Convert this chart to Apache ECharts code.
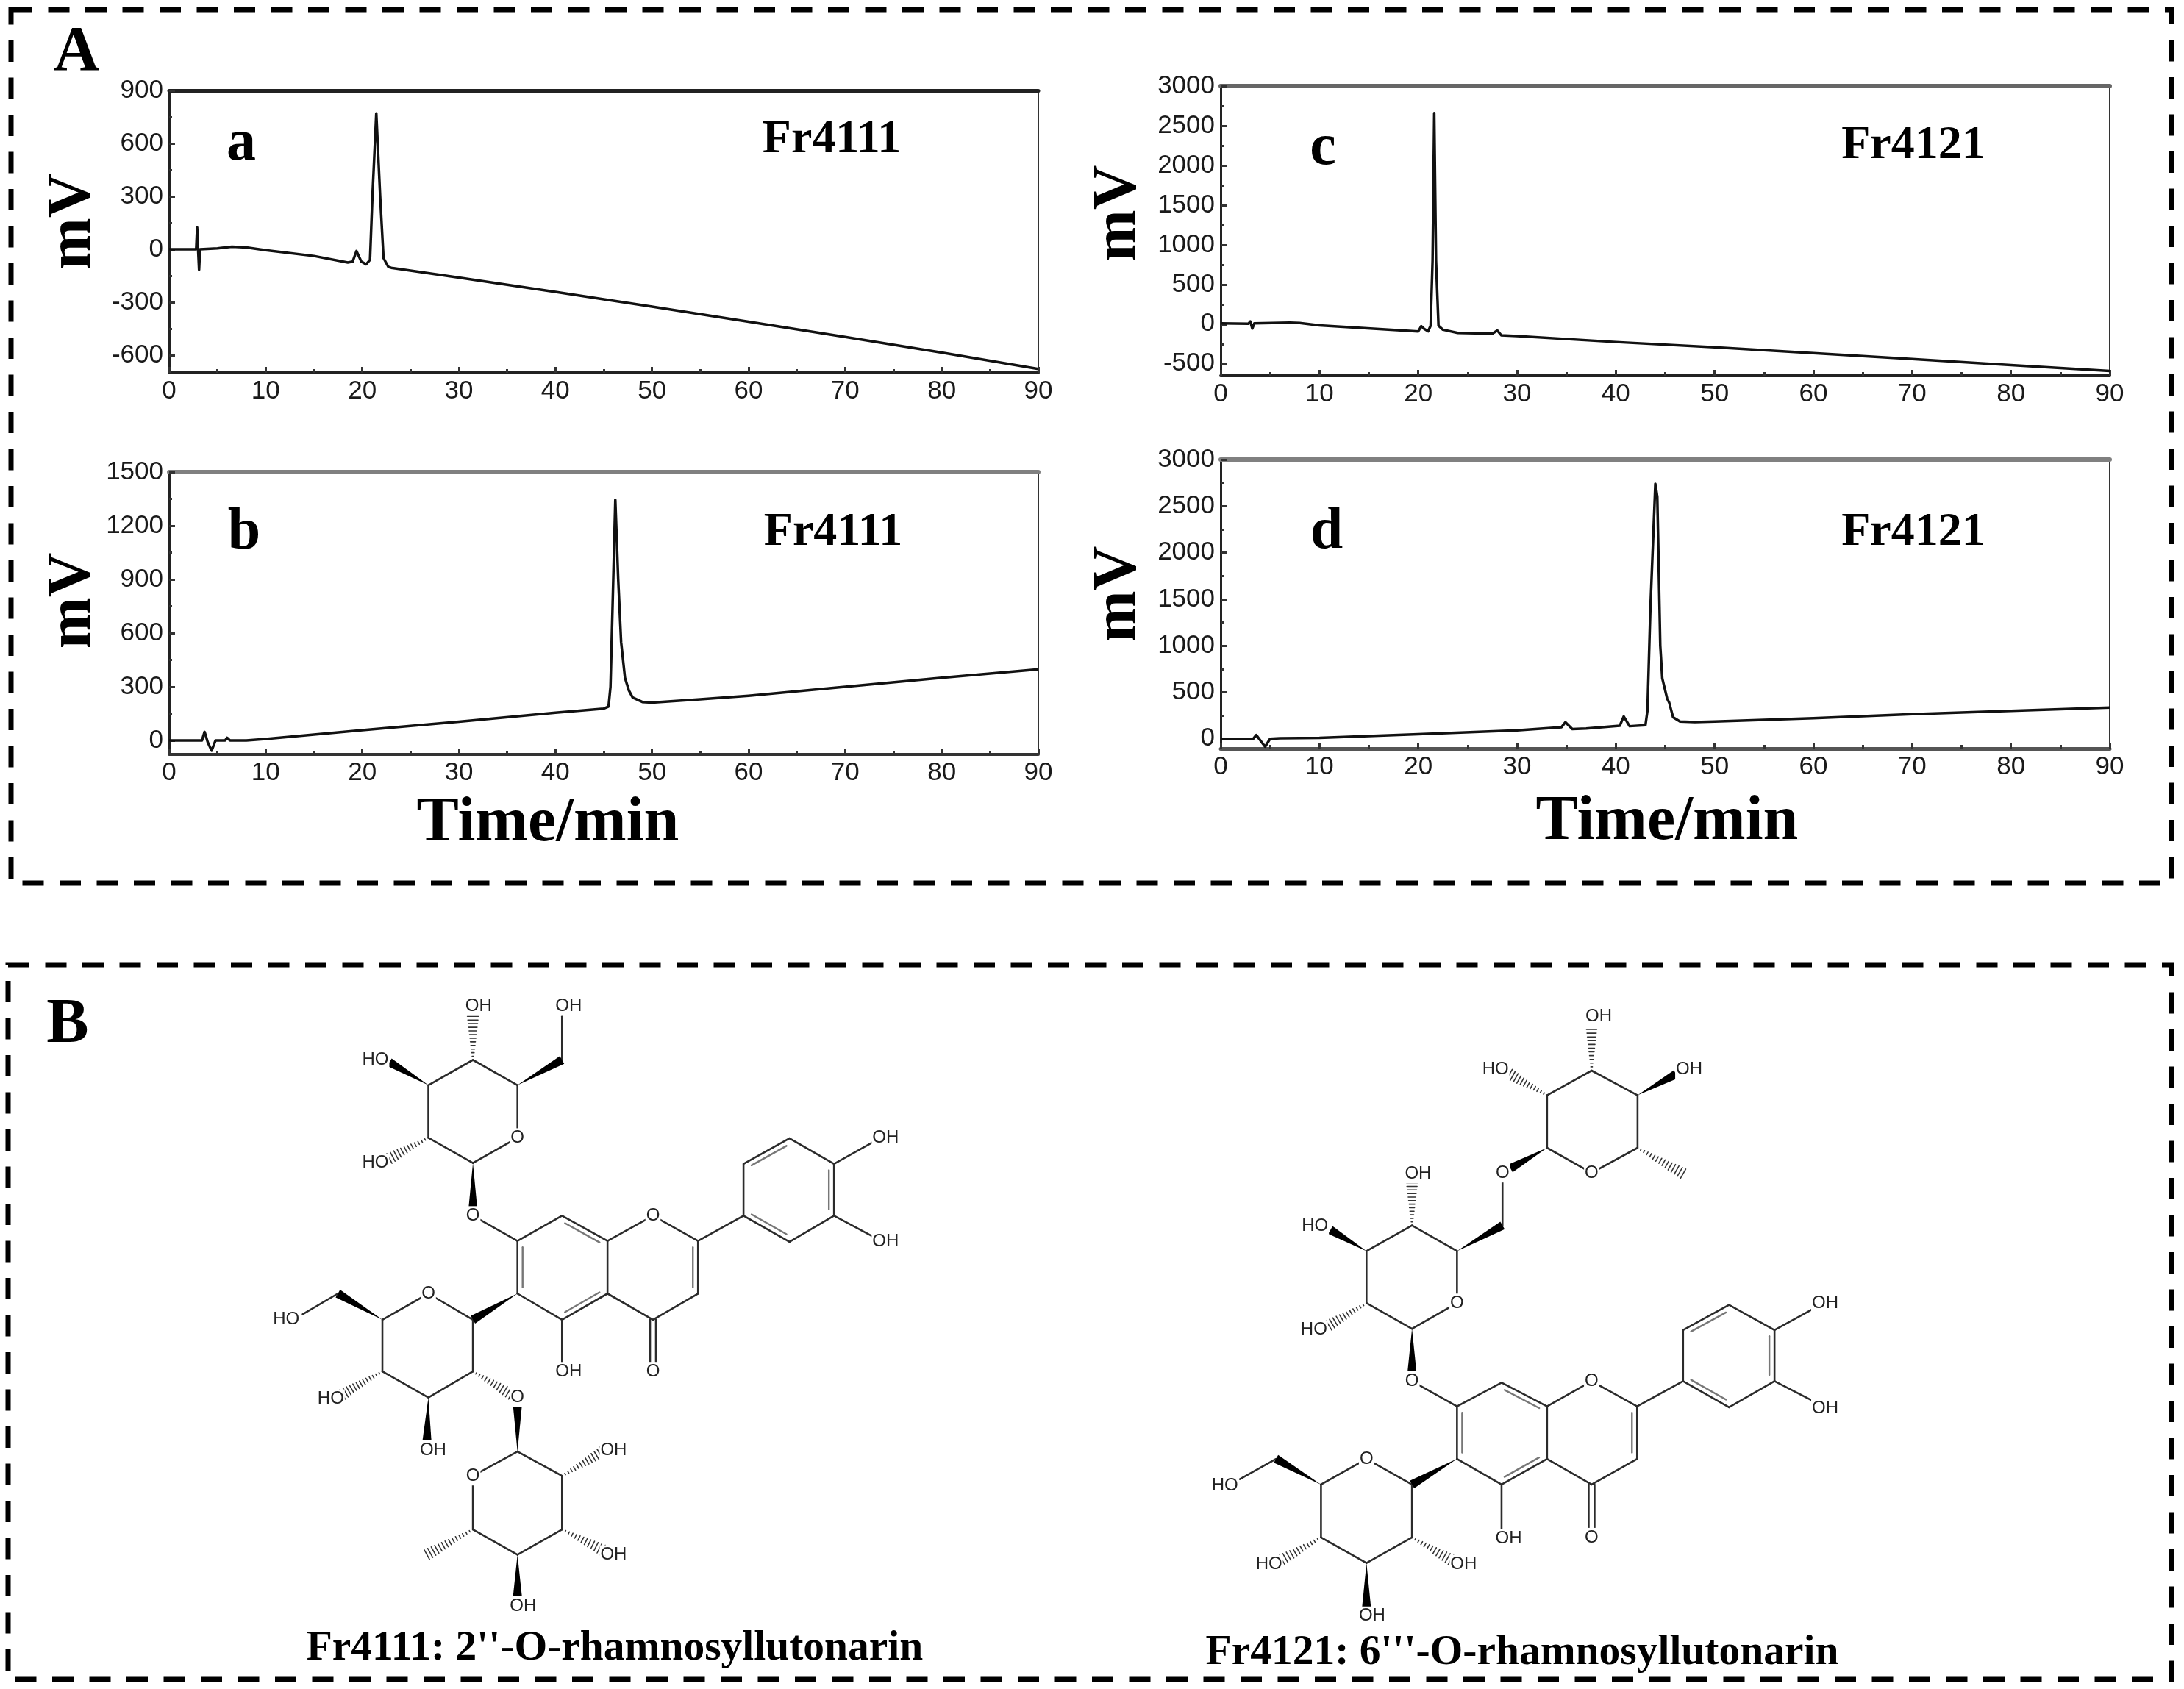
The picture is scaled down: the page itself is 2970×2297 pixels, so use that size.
<!DOCTYPE html>
<html>
<head>
<meta charset="utf-8">
<style>html,body{margin:0;padding:0;background:#fff}#c{width:2970px;height:2297px}</style>
<script src="https://cdn.jsdelivr.net/npm/echarts@6/dist/echarts.min.js"></script>
</head>
<body>
<div id="c"></div>
<script>
// ---------- chromatogram data ----------
const xTicks = [0,10,20,30,40,50,60,70,80,90];

const aTime   = [0,2.8,2.9,3.0,3.1,3.2,5,6.5,8,10,15,18.5,19,19.4,19.9,20.4,20.8,21.05,21.45,21.85,22.2,22.7,23,30,40,50,60,70,80,90];
const aSignal = [0,0,124,0,-116,0,5,15,10,-5,-38,-75,-70,-10,-70,-85,-60,300,770,300,-50,-100,-105,-160,-242,-325,-410,-497,-585,-678];
const aTicks  = [-600,-300,0,300,600,900];
const aMinor  = [-450,-150,150,450,750];

const bTime   = [0,3.4,3.67,4.0,4.4,4.8,5.8,6.0,6.3,8,10,20,30,40,45,45.5,45.7,46.2,46.5,46.8,47.2,47.6,48,49,50,55,60,70,80,90];
const bSignal = [0,0,48,-10,-57,0,0,15,0,0,8,58,105,155,178,190,300,1345,900,550,350,280,240,215,212,230,250,300,350,398];
const bTicks  = [0,300,600,900,1200,1500];
const bMinor  = [150,450,750,1050,1350];

const cTime   = [0,2.8,3,3.2,3.4,7,8,10,20,20.3,20.6,21,21.25,21.45,21.62,21.8,22.05,22.5,24,27.5,28,28.4,30,40,50,60,70,80,90];
const cSignal = [10,5,35,-55,10,20,15,-15,-92,-25,-60,-90,-20,800,2660,800,-20,-70,-110,-120,-80,-140,-150,-225,-290,-365,-440,-515,-590];
const cTicks  = [-500,0,500,1000,1500,2000,2500,3000];
const cMinor  = [-250,250,750,1250,1750,2250,2750];

const dTime   = [0,3.3,3.6,4.1,4.5,5,6,10,20,30,34.5,34.9,35.6,37,40.4,40.8,41.4,43,43.2,43.5,44,44.2,44.5,44.7,45.2,45.4,45.8,46.5,48,50,60,70,80,90];
const dSignal = [0,0,40,-30,-85,0,5,10,50,90,125,178,105,110,140,240,135,145,300,1400,2740,2600,1000,650,430,390,230,185,180,185,220,265,300,336];
const dTicks  = [0,500,1000,1500,2000,2500,3000];
const dMinor  = [250,750,1250,1750,2250,2750];

const titles = ['Fr4111','Fr4111','Fr4121','Fr4121'];
const letters = ['a','b','c','d'];

// ---------- panel layout ----------
const panels = [
  {t:aTime,s:aSignal,ticks:aTicks,minor:aMinor,min:-700,max:900, l:230,r:1412,top:123,bot:507, topC:'#222',topW:5,botC:'#222',botW:4},
  {t:bTime,s:bSignal,ticks:bTicks,minor:bMinor,min:-78,max:1500, l:230,r:1412,top:642,bot:1026,topC:'#808080',topW:6,botC:'#333',botW:4},
  {t:cTime,s:cSignal,ticks:cTicks,minor:cMinor,min:-650,max:3000,l:1660,r:2869,top:117,bot:511, topC:'#666',topW:6,botC:'#222',botW:4},
  {t:dTime,s:dSignal,ticks:dTicks,minor:dMinor,min:-105,max:3000,l:1660,r:2869,top:625,bot:1018,topC:'#808080',topW:6,botC:'#555',botW:5}
];
const labelFont = '"Liberation Sans"';
const serif = '"Liberation Serif"';
const plain = v => String(v);

const grid=[],xAxis=[],yAxis=[],series=[];
panels.forEach((p,i)=>{
  grid.push({left:p.l,width:p.r-p.l,top:p.top,height:p.bot-p.top,show:true,borderColor:'#333',borderWidth:2,backgroundColor:'#fff'});
  xAxis.push({type:'value',gridIndex:i,position:'bottom',min:0,max:90,interval:10,splitLine:{show:false},
    axisLine:{show:true,onZero:false,lineStyle:{color:p.botC,width:p.botW}},
    axisTick:{show:true,inside:true,length:8,lineStyle:{color:'#333',width:3}},
    minorTick:{show:true,splitNumber:2,length:5,lineStyle:{color:'#333',width:3}},minorSplitLine:{show:false},
    axisLabel:{color:'#1a1a1a',fontFamily:labelFont,fontSize:35,margin:8,formatter:plain,showMinLabel:true,showMaxLabel:true,hideOverlap:false}});
  xAxis.push({type:'value',gridIndex:i,position:'top',min:0,max:90,splitLine:{show:false},
    axisLine:{show:true,onZero:false,lineStyle:{color:p.topC,width:p.topW}},axisTick:{show:false},axisLabel:{show:false}});
  yAxis.push({type:'value',gridIndex:i,min:p.min,max:p.max,splitLine:{show:false},
    axisLine:{show:true,onZero:false,lineStyle:{color:'#222',width:3}},
    axisTick:{show:true,inside:true,length:8,customValues:p.ticks,lineStyle:{color:'#333',width:3}},
    axisLabel:{color:'#1a1a1a',fontFamily:labelFont,fontSize:35,margin:8,formatter:plain,customValues:p.ticks,hideOverlap:false}});
  yAxis.push({type:'value',gridIndex:i,position:'left',min:p.min,max:p.max,splitLine:{show:false},
    axisLine:{show:false},axisLabel:{show:false},
    axisTick:{show:true,inside:true,length:4,customValues:p.minor,lineStyle:{color:'#333',width:3}}});
  series.push({type:'line',name:letters[i],xAxisIndex:2*i,yAxisIndex:2*i,showSymbol:false,symbol:'none',clip:true,
    lineStyle:{color:'#111',width:3.5,join:'round'},data:p.t.map((x,k)=>[x,p.s[k]])});
});

// ---------- annotation text ----------
const graphic=[];
function txt(text,x,y,size,opt){opt=opt||{};
  graphic.push({type:'text',x:x,y:y,rotation:opt.rot||0,z:opt.z||10,silent:true,
    style:{text:text,x:0,y:0,fill:opt.fill||'#000',textAlign:'center',textVerticalAlign:'middle',
    font:(opt.weight||'bold')+' '+size+'px '+(opt.family||serif),
    backgroundColor:opt.bg,padding:opt.pad}});
}
function frame(x,y,w,h){graphic.push({type:'rect',z:1,silent:true,shape:{x:x,y:y,width:w,height:h},
  style:{fill:null,stroke:'#000',lineWidth:7,lineDash:[29,21.5]}});}
frame(15,13,2938,1188);
frame(11,1312,2942,972);
txt('A',104,73,86); txt('B',92,1395,86);
[[100,301],[100,817],[1522,290],[1522,808]].forEach(c=>txt('mV',c[0],c[1],84,{rot:Math.PI/2}));
[[328,196],[332,725],[1799,202],[1804,724]].forEach((c,i)=>txt(letters[i],c[0],c[1],80));
[[1131,190],[1133,724],[2602,198],[2602,724]].forEach((c,i)=>txt(titles[i],c[0],c[1],64));
txt('Time/min',745,1121,86); txt('Time/min',2267,1119,86);
txt("Fr4111: 2''-O-rhamnosyllutonarin",836,2242,57.5);
txt("Fr4121: 6'''-O-rhamnosyllutonarin",2070,2248,57.5);

// ---------- structural formulae ----------
const mol1 = {ox:300,oy:1320,sx:1.568,sy:1.605,
 bonds:[[538,420,633,365],[633,365,633,250],[633,250,538,195],[538,195,443,250],[443,250,443,365],[443,365,538,420],
  [728,195,728,100],[538,535,633,590],[633,590,728,535],[728,535,825,590],[825,590,825,705],[825,705,728,762],[728,762,633,705],[633,705,633,590],
  [825,590,922,535],[922,535,1018,590],[1018,590,1018,705],[1018,705,922,762],[922,762,825,705],[728,762,728,855],
  [1018,590,1115,535],[1115,535,1115,422],[1115,422,1213,366],[1213,366,1308,422],[1308,422,1308,535],[1308,535,1213,592],[1213,592,1115,535],
  [1308,422,1390,375],[1308,535,1390,580],
  [538,762,443,705],[443,705,345,762],[345,762,345,875],[345,875,443,932],[443,932,538,875],[538,875,538,762],[250,705,175,750],
  [633,1050,728,1103],[728,1103,728,1220],[728,1220,633,1275],[633,1275,538,1220],[538,1220,538,1103],[538,1103,633,1050]],
 doubles:[[633,590,633,705,-1],[728,535,825,590,1],[825,705,728,762,1],[1018,590,1018,705,1],[1115,535,1213,592,-1],[1115,422,1213,366,1],[1308,422,1308,535,1],[922,762,922,860,0]],
 wedges:[[633,250,728,195],[443,250,360,200],[538,420,538,520],[633,705,538,762],[345,762,250,705],[443,932,440,1025],[633,1050,633,950],[633,1275,633,1365]],
 hashes:[[538,195,538,100],[443,365,360,410],[345,875,260,925],[538,875,620,925],[728,1103,815,1050],[728,1220,815,1265],[538,1220,440,1275]],
 labels:[['OH',550,78],['OH',742,78],['HO',330,195],['O',633,365],['HO',330,420],['O',538,535],['O',922,535],['OH',1418,365],['OH',1418,592],
  ['OH',742,875],['O',922,875],['HO',140,762],['O',443,705],['HO',235,935],['O',633,932],['OH',453,1047],['OH',838,1047],['O',538,1103],['OH',838,1275],['OH',645,1387]]
};
const mol2 = {ox:1600,oy:1340,sx:1.568,sy:1.638,
 bonds:[[790,245,885,190],[885,190,983,245],[983,245,983,362],[983,362,885,418],[885,418,790,362],[790,362,790,245],[695,418,695,535],
  [598,592,502,535],[502,535,405,592],[405,592,405,708],[405,708,502,765],[502,765,598,708],[598,708,598,592],
  [502,882,598,938],[598,938,693,885],[693,885,790,938],[790,938,790,1055],[790,1055,693,1112],[693,1112,598,1055],[598,1055,598,938],
  [790,938,885,882],[885,882,982,938],[982,938,982,1055],[982,1055,885,1112],[885,1112,790,1055],[693,1112,693,1210],
  [982,938,1080,882],[1080,882,1080,768],[1080,768,1178,712],[1178,712,1275,768],[1275,768,1275,882],[1275,882,1178,940],[1178,940,1080,882],
  [1275,768,1355,722],[1275,882,1355,925],
  [502,1112,405,1055],[405,1055,308,1112],[308,1112,308,1230],[308,1230,405,1287],[405,1287,502,1230],[502,1230,502,1112],[212,1055,135,1100]],
 doubles:[[598,938,598,1055,-1],[693,885,790,938,1],[790,1055,693,1112,1],[982,938,982,1055,1],[1080,882,1178,940,-1],[1080,768,1178,712,1],[1275,768,1275,882,1],[885,1112,885,1210,0]],
 wedges:[[983,245,1065,198],[790,362,712,408],[598,592,695,535],[405,592,328,545],[502,765,502,860],[598,1055,502,1112],[308,1112,212,1055],[405,1287,405,1385]],
 hashes:[[885,190,885,90],[790,245,710,198],[983,362,1080,420],[502,535,502,440],[405,708,325,758],[308,1230,225,1280],[502,1230,585,1280]],
 labels:[['OH',900,70],['HO',680,188],['OH',1093,188],['O',695,418],['O',885,418],['OH',515,420],['HO',295,537],['O',598,708],['HO',293,768],['O',502,882],
  ['O',885,882],['OH',1383,708],['OH',1383,942],['O',405,1055],['HO',103,1115],['OH',708,1232],['O',885,1230],['HO',197,1290],['OH',612,1290],['OH',417,1405]]
};
function drawMol(m){
  const X=v=>m.ox+v/m.sx, Y=v=>m.oy+v/m.sy;
  const seg=(x1,y1,x2,y2,w,col)=>graphic.push({type:'line',z:3,silent:true,shape:{x1,y1,x2,y2},style:{stroke:col||'#2b2b2b',lineWidth:w||2.6,lineCap:'round'}});
  m.bonds.forEach(b=>seg(X(b[0]),Y(b[1]),X(b[2]),Y(b[3])));
  m.doubles.forEach(d=>{
    const x1=X(d[0]),y1=Y(d[1]),x2=X(d[2]),y2=Y(d[3]);
    const dx=x2-x1,dy=y2-y1,L=Math.hypot(dx,dy),nx=-dy/L,ny=dx/L;
    if(d[4]===0){ seg(x1-nx*4,y1-ny*4,x2-nx*4,y2-ny*4); seg(x1+nx*4,y1+ny*4,x2+nx*4,y2+ny*4); return; }
    const off=7*d[4], t=0.12;
    seg(x1+dx*t+nx*off,y1+dy*t+ny*off,x2-dx*t+nx*off,y2-dy*t+ny*off,2.4,'#777');
  });
  m.wedges.forEach(w=>{
    const x1=X(w[0]),y1=Y(w[1]),x2=X(w[2]),y2=Y(w[3]);
    const dx=x2-x1,dy=y2-y1,L=Math.hypot(dx,dy),nx=-dy/L,ny=dx/L,hw=6;
    graphic.push({type:'polygon',z:3,silent:true,shape:{points:[[x1,y1],[x2+nx*hw,y2+ny*hw],[x2-nx*hw,y2-ny*hw]]},style:{fill:'#000'}});
  });
  m.hashes.forEach(h=>{
    const x1=X(h[0]),y1=Y(h[1]),x2=X(h[2]),y2=Y(h[3]);
    const dx=x2-x1,dy=y2-y1,L=Math.hypot(dx,dy),nx=-dy/L,ny=dx/L,n=Math.round(L/5);
    for(let k=1;k<=n;k++){const f=k/n,cx=x1+dx*f,cy=y1+dy*f,hw=7*f+0.5;
      seg(cx+nx*hw,cy+ny*hw,cx-nx*hw,cy-ny*hw,1.6,'#333');}
  });
  m.labels.forEach(l=>txt(l[0],X(l[1]),Y(l[2]),24,{weight:'normal',family:labelFont,fill:'#222',bg:'#fff',pad:[1,1],z:5}));
}
drawMol(mol1); drawMol(mol2);

const chart=echarts.init(document.getElementById('c'),null,{renderer:'canvas',width:2970,height:2297});
chart.setOption({animation:false,backgroundColor:'#fff',grid,xAxis,yAxis,series,graphic});
</script>
</body>
</html>
